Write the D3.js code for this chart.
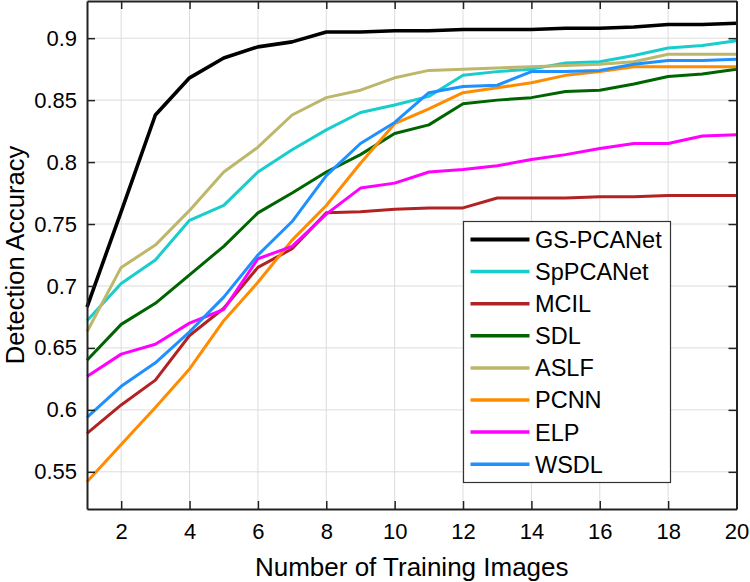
<!DOCTYPE html>
<html>
<head>
<meta charset="utf-8">
<script src="https://cdn.jsdelivr.net/npm/d3@7"></script>
<style>
  html, body { margin: 0; padding: 0; background: #fff; }
  svg { display: block; }
  text { font-family: "Liberation Sans", Arial, Helvetica, sans-serif; fill: #000; }
</style>
</head>
<body>
<svg id="chart" width="750" height="582"></svg>
<script>
const xValues = [1,2,3,4,5,6,7,8,9,10,11,12,13,14,15,16,17,18,19,20];
const seriesNames = ["GS-PCANet","SpPCANet","MCIL","SDL","ASLF","PCNN","ELP","WSDL"];
const seriesColors = ["#000000","#19CDCD","#B22222","#006400","#BDB76B","#FF8C00","#FF00FF","#1E90FF"];
const gsPCANet = [0.683,0.760,0.838,0.868,0.884,0.893,0.897,0.905,0.905,0.906,0.906,0.907,0.907,0.907,0.908,0.908,0.909,0.911,0.911,0.912];
const spPCANet = [0.672,0.702,0.721,0.753,0.765,0.792,0.810,0.826,0.840,0.846,0.853,0.870,0.873,0.875,0.880,0.881,0.886,0.892,0.894,0.898];
const mcil     = [0.581,0.604,0.624,0.660,0.682,0.715,0.730,0.759,0.760,0.762,0.763,0.763,0.771,0.771,0.771,0.772,0.772,0.773,0.773,0.773];
const sdl      = [0.640,0.669,0.686,0.709,0.732,0.759,0.775,0.792,0.806,0.823,0.830,0.847,0.850,0.852,0.857,0.858,0.863,0.869,0.871,0.875];
const aslf     = [0.663,0.715,0.733,0.761,0.792,0.812,0.838,0.852,0.858,0.868,0.874,0.875,0.876,0.877,0.878,0.879,0.881,0.887,0.887,0.887];
const pcnn     = [0.542,0.572,0.602,0.633,0.672,0.703,0.737,0.765,0.799,0.831,0.843,0.856,0.860,0.864,0.870,0.873,0.877,0.877,0.877,0.877];
const elp      = [0.627,0.645,0.653,0.670,0.681,0.722,0.732,0.758,0.779,0.783,0.792,0.794,0.797,0.802,0.806,0.811,0.815,0.815,0.821,0.822];
const wsdl     = [0.594,0.619,0.638,0.663,0.691,0.725,0.752,0.789,0.815,0.832,0.856,0.861,0.862,0.873,0.873,0.874,0.879,0.882,0.882,0.883];
const xTicks = [2,4,6,8,10,12,14,16,18,20];
const yTicks = [0.55,0.6,0.65,0.7,0.75,0.8,0.85,0.9];
const yTickLabels = ["0.55","0.6","0.65","0.7","0.75","0.8","0.85","0.9"];
const xLabel = "Number of Training Images";
const yLabel = "Detection Accuracy";

const seriesValues = [gsPCANet, spPCANet, mcil, sdl, aslf, pcnn, elp, wsdl];
const seriesWidths = [3.6, 3, 3, 3, 3, 3, 3, 3];

const svg = d3.select("#chart");
const L = 87, R = 736.5, T = 1, B = 509;
const x = d3.scaleLinear().domain([1,20]).range([L,R]);
const y = d3.scaleLinear().domain([0.52,0.93]).range([B,T]);

// grid
const grid = svg.append("g");
grid.selectAll("line.gx").data(xTicks).enter().append("line")
  .attr("x1", d=>x(d)).attr("x2", d=>x(d)).attr("y1", T).attr("y2", B)
  .attr("stroke", "#dcdcdc").attr("stroke-width", 1);
grid.selectAll("line.gy").data(yTicks).enter().append("line")
  .attr("x1", L).attr("x2", R).attr("y1", d=>y(d)).attr("y2", d=>y(d))
  .attr("stroke", "#dcdcdc").attr("stroke-width", 1);

// lines
const line = d3.line().x((d,i)=>x(xValues[i])).y(d=>y(d));
const lg = svg.append("g");
seriesValues.forEach((vals, k) => {
  lg.append("path").datum(vals)
    .attr("d", line).attr("fill", "none")
    .attr("stroke", seriesColors[k]).attr("stroke-width", seriesWidths[k])
    .attr("stroke-linejoin", "round");
});

// axes (MATLAB-like box with inward ticks)
const tickLen = 8;
const axB = svg.append("g").attr("transform", `translate(0,${B})`)
  .call(d3.axisBottom(x).tickValues(xTicks).tickSizeInner(-tickLen).tickSizeOuter(0).tickPadding(14));
const axT = svg.append("g").attr("transform", `translate(0,${T})`)
  .call(d3.axisTop(x).tickValues(xTicks).tickSizeInner(-tickLen).tickSizeOuter(0).tickFormat(""));
const axL = svg.append("g").attr("transform", `translate(${L},0)`)
  .call(d3.axisLeft(y).tickValues(yTicks).tickSizeInner(-tickLen).tickSizeOuter(0).tickPadding(10)
    .tickFormat((d,i)=>yTickLabels[i]));
const axR = svg.append("g").attr("transform", `translate(${R},0)`)
  .call(d3.axisRight(y).tickValues(yTicks).tickSizeInner(-tickLen).tickSizeOuter(0).tickFormat(""));
[axB, axT, axL, axR].forEach(a => {
  a.selectAll("path.domain").attr("stroke", "#222").attr("stroke-width", 2);
  a.selectAll(".tick line").attr("stroke", "#222").attr("stroke-width", 1.5);
  a.selectAll("text").attr("font-size", 22).attr("fill", "#000")
    .style("font-family", '"Liberation Sans", Arial, sans-serif');
});
axB.selectAll("text").attr("dy", "0.71em");

// axis labels
svg.append("text").attr("x", (L+R)/2).attr("y", 576).attr("text-anchor", "middle")
  .attr("font-size", 26).text(xLabel);
svg.append("text").attr("transform", `translate(24,${(T+B)/2}) rotate(-90)`)
  .attr("text-anchor", "middle").attr("font-size", 25.5).text(yLabel);

// legend
const lgX = 463.5, lgY = 221.5, lgW = 207, lgH = 261;
const leg = svg.append("g");
leg.append("rect").attr("x", lgX).attr("y", lgY).attr("width", lgW).attr("height", lgH)
  .attr("fill", "#fff").attr("stroke", "#333").attr("stroke-width", 1.2);
seriesNames.forEach((name, k) => {
  const cy = 239.5 + k * 32.1;
  leg.append("line").attr("x1", 470.5).attr("x2", 529.5).attr("y1", cy).attr("y2", cy)
    .attr("stroke", seriesColors[k]).attr("stroke-width", k === 0 ? 4 : 3.5);
  leg.append("text").attr("x", 535).attr("y", cy).attr("dy", "0.36em")
    .attr("font-size", 23.5).text(name);
});
</script>
</body>
</html>
